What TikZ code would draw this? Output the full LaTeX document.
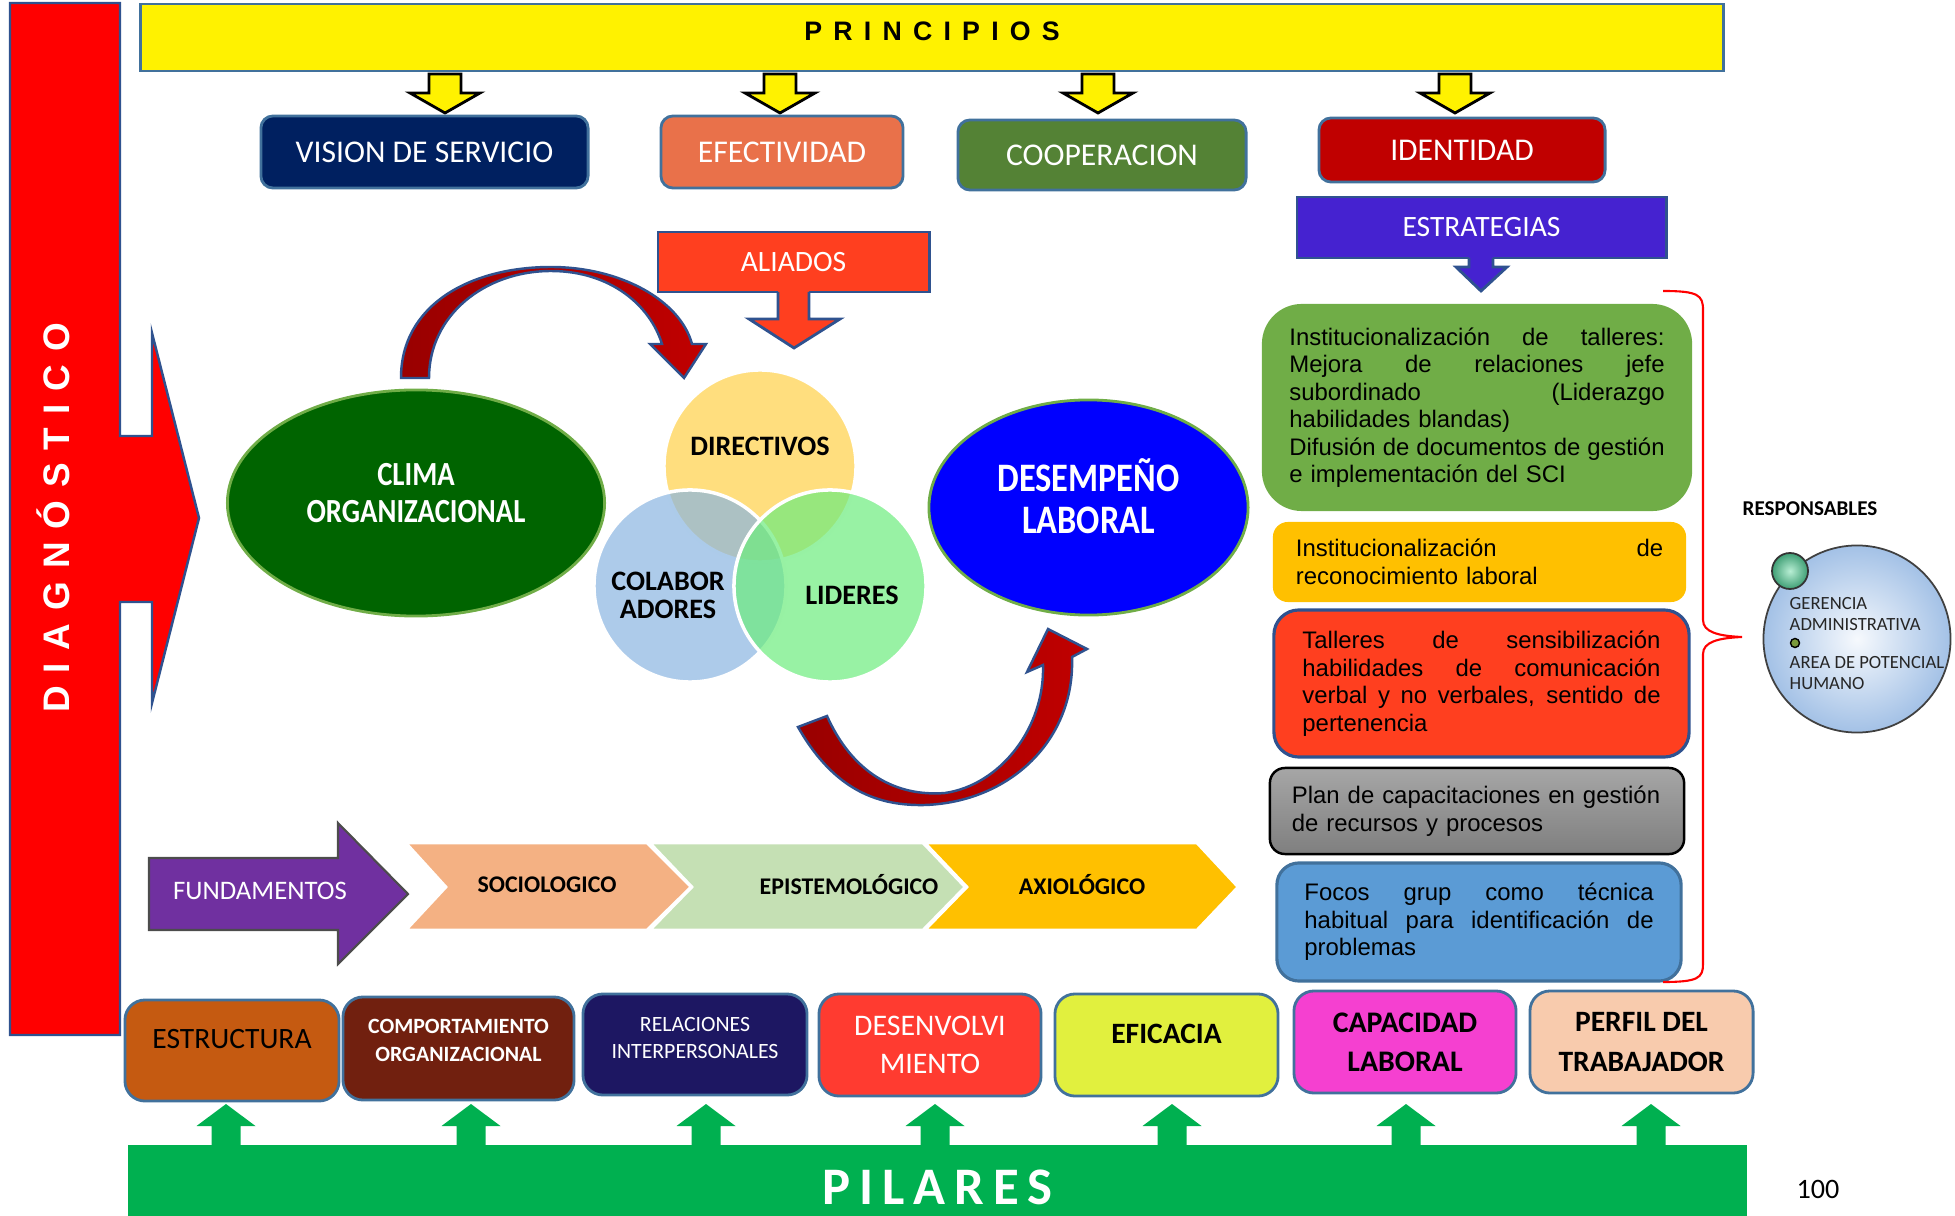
\documentclass[tikz,border=0pt]{standalone}
\usepackage{fontspec}
\setmainfont{Carlito}
\newfontfamily\arialfont{Liberation Sans}
\newfontfamily\diagfont{Liberation Sans}[LetterSpace=35]
\newfontfamily\princfont{Liberation Sans}[LetterSpace=42]
\newfontfamily\pilarfont{Carlito}[LetterSpace=17]
\newfontfamily\narrowfont{Carlito}[FakeStretch=0.85]
\usepackage{tikz}
\usetikzlibrary{shapes.geometric}

\definecolor{bordeblue}{HTML}{41719C}
\definecolor{bordedark}{HTML}{2F528F}
\definecolor{colvision}{HTML}{002060}
\definecolor{colefect}{HTML}{E9714A}
\definecolor{colcoop}{HTML}{548235}
\definecolor{colident}{HTML}{C00000}
\definecolor{colestrat}{HTML}{4522D0}
\definecolor{colaliado}{HTML}{FF3F1F}
\definecolor{colclima}{HTML}{006400}
\definecolor{colclimab}{HTML}{70AD47}
\definecolor{coldesemp}{HTML}{0000FF}
\definecolor{coldir}{HTML}{FFD047}
\definecolor{colcolab}{HTML}{8AB5E1}
\definecolor{collider}{HTML}{6CEC7D}
\definecolor{colfund}{HTML}{7030A0}
\definecolor{colsocio}{HTML}{F4B183}
\definecolor{colepist}{HTML}{C5E0B4}
\definecolor{colaxio}{HTML}{FFC000}
\definecolor{cols1}{HTML}{70AD47}
\definecolor{cols2}{HTML}{FFC000}
\definecolor{cols3}{HTML}{FF3F1F}
\definecolor{colgrayt}{HTML}{A6A6A6}
\definecolor{colgrayb}{HTML}{7F7F7F}
\definecolor{cols5}{HTML}{5B9BD5}
\definecolor{colestr}{HTML}{C55A11}
\definecolor{colcomp}{HTML}{71200F}
\definecolor{colrel}{HTML}{1D1762}
\definecolor{coldes}{HTML}{FF3B30}
\definecolor{colefic}{HTML}{E1F03E}
\definecolor{colcap}{HTML}{F540D0}
\definecolor{colperf}{HTML}{F8CBAD}
\definecolor{colpilar}{HTML}{00B050}
\definecolor{coldiag}{HTML}{FF0000}
\definecolor{colflechad}{HTML}{990000}
\definecolor{colflechar}{HTML}{C00000}
\definecolor{colbubin}{HTML}{F6F9FD}
\definecolor{colbubout}{HTML}{A3C1E6}
\definecolor{colballin}{HTML}{B8EED4}
\definecolor{colballout}{HTML}{3E9E74}
\definecolor{coldot}{HTML}{7A9A3C}

\newcommand{\jline}[1]{\makebox[\hsize][s]{\spaceskip=0.28em plus 1fil\relax #1}}

\begin{document}
\begin{tikzpicture}[x=0.01cm, y=-0.01cm,
    etiqueta/.style = {draw=bordeblue, line width=0.8pt, rounded corners=0.12cm, text=white, font=\fontsize{9}{11}\selectfont},
    yarrow/.style = {fill=yellow, draw=black, line width=0.8pt},
    curva/.style = {left color=colflechad, right color=colflechar, draw=bordedark, line width=0.7pt},
    venn/.style = {circle, minimum size=1.92cm, inner sep=0pt, fill opacity=0.7, draw=white, line width=1pt},
    venntext/.style = {align=center, font=\bfseries\fontsize{8}{8}\selectfont},
    chevtext/.style = {font=\bfseries\fontsize{6.8}{8}\selectfont},
    estr/.style = {align=left, font=\arialfont\fontsize{6.8}{7.82}\selectfont},
    pilar/.style = {draw=bordeblue, line width=0.8pt, rounded corners=0.2cm, align=center, minimum width=2.22cm, minimum height=1.02cm},
    resptext/.style = {align=left, inner sep=0pt, text=black!85, font=\fontsize{5.3}{6}\selectfont}]
  \useasboundingbox (0,0) rectangle (1955,1216);

  \draw[fill=coldiag, draw=bordedark, line width=0.7pt] (10,3) -- (120,3) -- (120,436) -- (152,436) -- (152,333) -- (199,518) -- (152,703) -- (152,602) -- (120,602) -- (120,1035) -- (10,1035) -- cycle;
  \node[rotate=90, text=white, font=\diagfont\bfseries\fontsize{10.5}{12}\selectfont] (diag) at (53,518) {DIAGNÓSTICO};

  \node[fill=yellow, draw=bordeblue, line width=0.6pt, minimum width=15.82cm, minimum height=0.67cm, text depth=0.12cm, font=\princfont\bfseries\fontsize{7.6}{9}\selectfont] (princ) at (932,37.5) {PRINCIPIOS};
  \foreach \x in {445,780,1098,1455}
    \draw[yarrow] (\x-16,74) -- (\x+16,74) -- (\x+16,93) -- (\x+35,93) -- (\x,113) -- (\x-35,93) -- (\x-16,93) -- cycle;

  \node[etiqueta, fill=colvision, minimum width=3.27cm, minimum height=0.72cm] (vision) at (424.5,152) {VISION DE SERVICIO};
  \node[etiqueta, fill=colefect, minimum width=2.42cm, minimum height=0.72cm] (efect) at (782,152) {EFECTIVIDAD};
  \node[etiqueta, fill=colcoop, minimum width=2.88cm, minimum height=0.70cm] (coop) at (1102,155) {COOPERACION};
  \node[etiqueta, fill=colident, minimum width=2.86cm, minimum height=0.64cm] (ident) at (1462,150) {IDENTIDAD};

  \node[etiqueta, sharp corners, draw=bordedark, fill=colestrat, minimum width=3.69cm, minimum height=0.61cm, font=\fontsize{8.4}{10}\selectfont] (estrat) at (1481.5,227.5) {ESTRATEGIAS};
  \fill[colestrat] (1469,256) -- (1469,267) -- (1456,267) -- (1481,291) -- (1507,267) -- (1493,267) -- (1493,256) -- cycle;
  \draw[draw=bordedark, line width=0.8pt] (1469,258) -- (1469,267) -- (1456,267) -- (1481,291) -- (1507,267) -- (1493,267) -- (1493,258);

  \node[etiqueta, sharp corners, draw=bordedark, fill=colaliado, minimum width=2.71cm, minimum height=0.60cm, font=\fontsize{8.4}{10}\selectfont] (aliados) at (793.5,262) {ALIADOS};
  \fill[colaliado] (778,289) -- (778,319) -- (749,319) -- (794,348) -- (840,319) -- (809,319) -- (809,289) -- cycle;
  \draw[draw=bordedark, line width=0.8pt] (778,292) -- (778,319) -- (749,319) -- (794,348) -- (840,319) -- (809,319) -- (809,292);

  \draw[curva] (401,378) .. controls (401,305) and (470,267) .. (551,267) .. controls (620,267) and (680,300) .. (692,344) -- (706,344) -- (684,378) -- (650,344) -- (662,344) .. controls (650,305) and (610,271) .. (551,271) .. controls (485,271) and (429,315) .. (429,378) -- cycle;

  \node[ellipse, fill=colclima, draw=colclimab, line width=0.8pt, minimum width=3.77cm, minimum height=2.26cm] (clima) at (416,503) {};
  \node[text=white, align=center, font=\narrowfont\bfseries\fontsize{9.6}{10.5}\selectfont] (climatext) at ([yshift=0.1cm]clima.center) {CLIMA\\ORGANIZACIONAL};

  \node[venn, fill=coldir] (dir) at (760,466) {};
  \node[venn, fill=colcolab] (colab) at (690,586) {};
  \node[venn, fill=collider] (lider) at (830,586) {};
  \node[venntext] (dirtext) at (760,446) {DIRECTIVOS};
  \node[venntext] (colabtext) at (668,595) {COLABOR\\ADORES};
  \node[venntext] (lidertext) at (852,595) {LIDERES};

  \node[ellipse, fill=coldesemp, draw=colclimab, line width=0.8pt, minimum width=3.19cm, minimum height=2.15cm] (desemp) at (1088.5,507.5) {};
  \node[text=white, align=center, font=\narrowfont\bfseries\fontsize{11.5}{12}\selectfont] (desemptext) at ([yshift=0.11cm]desemp.center) {DESEMPEÑO\\LABORAL};

  \draw[curva] (798,727) .. controls (835,792) and (880,806) .. (925,805) .. controls (1010,802) and (1075,740) .. (1072,657) -- (1087,649) -- (1048,629) -- (1027,672) -- (1043,665) .. controls (1045,728) and (1000,785) .. (945,793) .. controls (895,797) and (852,772) .. (827,716) -- cycle;

  \draw[fill=colfund, draw=black!70, line width=0.6pt] (149,858) -- (338,858) -- (338,823) -- (408,894) -- (338,964) -- (338,930) -- (149,930) -- cycle;
  \node[text=white, font=\fontsize{7.6}{9}\selectfont] (fund) at (260,891) {FUNDAMENTOS};
  \draw[fill=colsocio, draw=white, line width=0.8pt] (406,843) -- (647,843) -- (691,887) -- (647,930) -- (406,930) -- (446,887) -- cycle;
  \draw[fill=colepist, draw=white, line width=0.8pt] (650,843) -- (923,843) -- (965,887) -- (923,930) -- (650,930) -- (692,887) -- cycle;
  \draw[fill=colaxio, draw=white, line width=0.8pt] (925,843) -- (1197,843) -- (1238,887) -- (1197,930) -- (925,930) -- (967,887) -- cycle;
  \node[chevtext] (socio) at (547,885) {SOCIOLOGICO};
  \node[chevtext] (epist) at (849,885) {EPISTEMOLÓGICO};
  \node[chevtext] (axio) at (1082,885) {AXIOLÓGICO};

  \node[estr, fill=cols1, rounded corners=0.4cm, minimum width=4.30cm, minimum height=2.07cm, text width=3.75cm] (s1) at (1477,407.5) {\jline{Institucionalización de talleres:}\\
    \jline{Mejora de relaciones jefe}\\
    \jline{subordinado (Liderazgo}\\
    habilidades blandas)\\
    \jline{Difusión de documentos de gestión}\\
    e implementación del SCI};
  \node[estr, fill=cols2, rounded corners=0.15cm, minimum width=4.13cm, minimum height=0.80cm, text width=3.67cm] (s2) at (1479.5,562) {\jline{Institucionalización de}\\
    reconocimiento laboral};
  \node[estr, fill=cols3, draw=bordedark, line width=0.9pt, rounded corners=0.25cm, minimum width=4.15cm, minimum height=1.47cm, text width=3.58cm] (s3) at (1481.5,683.5) {\jline{Talleres de sensibilización}\\
    \jline{habilidades de comunicación}\\
    \jline{verbal y no verbales, sentido de}\\
    pertenencia};
  \node[estr, top color=colgrayt, bottom color=colgrayb, draw=black, line width=0.7pt, rounded corners=0.15cm, minimum width=4.14cm, minimum height=0.86cm, text width=3.70cm] (s4) at (1477,811) {Plan de capacitaciones en gestión\\
    de recursos y procesos};
  \node[estr, fill=cols5, draw=bordeblue, line width=0.9pt, rounded corners=0.22cm, minimum width=4.04cm, minimum height=1.18cm, text width=3.49cm] (s5) at (1479,922) {\jline{Focos grup como técnica}\\
    \jline{habitual para identificación de}\\
    problemas};

  \draw[coldiag, line width=0.6pt] (1663,291) .. controls (1698,291) and (1703,295) .. (1703,310) -- (1703,620) .. controls (1703,632) and (1718,636) .. (1742,637) .. controls (1718,638) and (1703,642) .. (1703,654) -- (1703,964) .. controls (1703,978) and (1698,982) .. (1663,982);

  \node[font=\bfseries\fontsize{6}{7}\selectfont] (resp) at (1810,509) {RESPONSABLES};
  \node[circle, minimum size=1.87cm, inner sep=0pt, draw=black!75, line width=0.5pt, inner color=colbubin, outer color=colbubout] (bubble) at (1857,639) {};
  \node[circle, minimum size=0.36cm, inner sep=0pt, draw=black!80, line width=0.5pt, inner color=colballin, outer color=colballout] (ball) at (1790,571) {};
  \node[circle, minimum size=0.09cm, inner sep=0pt, fill=coldot, draw=black, line width=0.4pt] (dot) at (1795,643) {};
  \node[resptext, anchor=west] (gerencia) at (1789,614) {GERENCIA\\ADMINISTRATIVA};
  \node[resptext, anchor=west] (area) at (1789,673) {AREA DE POTENCIAL\\HUMANO};

  \node[pilar, fill=colestr, minimum width=2.14cm, minimum height=1.01cm, text depth=0.23cm, font=\fontsize{8.4}{10}\selectfont] (estructura) at (232,1050.5) {ESTRUCTURA};
  \node[pilar, fill=colcomp, minimum width=2.31cm, minimum height=1.03cm, text depth=0.17cm, text=white, font=\bfseries\fontsize{6.2}{8}\selectfont] (comport) at (458.5,1048.5) {COMPORTAMIENTO\\ORGANIZACIONAL};
  \node[pilar, fill=colrel, minimum width=2.24cm, minimum height=1.01cm, text depth=0.14cm, text=white, font=\fontsize{6.2}{7.7}\selectfont] (relac) at (695,1044.5) {RELACIONES\\INTERPERSONALES};
  \node[pilar, fill=coldes, text=white, font=\fontsize{8.5}{10.8}\selectfont] (desenv) at (930,1045) {DESENVOLVI\\MIENTO};
  \node[pilar, fill=colefic, minimum width=2.23cm, text depth=0.23cm, font=\bfseries\fontsize{8.4}{10}\selectfont] (eficacia) at (1166.5,1045) {EFICACIA};
  \node[pilar, fill=colcap, font=\bfseries\fontsize{8.5}{11.1}\selectfont] (capac) at (1405,1042) {CAPACIDAD\\LABORAL};
  \node[pilar, fill=colperf, minimum width=2.23cm, font=\bfseries\fontsize{8.4}{11.1}\selectfont] (perfil) at (1641.5,1042) {PERFIL DEL\\TRABAJADOR};

  \foreach \x in {226,471,706,935,1172,1406,1651}
    \fill[colpilar] (\x-14.5,1147) -- (\x-14.5,1126) -- (\x-29.5,1126) -- (\x,1104) -- (\x+29.5,1126) -- (\x+14.5,1126) -- (\x+14.5,1147) -- cycle;
  \node[fill=colpilar, inner sep=0pt, minimum width=16.19cm, minimum height=0.71cm, text height=0.48cm, text=white, font=\pilarfont\bfseries\fontsize{15}{17}\selectfont] (pilares) at (937.5,1180.5) {PILARES};

  \node[font=\fontsize{8}{10}\selectfont] (pagina) at (1818,1189) {100};
\end{tikzpicture}
\end{document}
